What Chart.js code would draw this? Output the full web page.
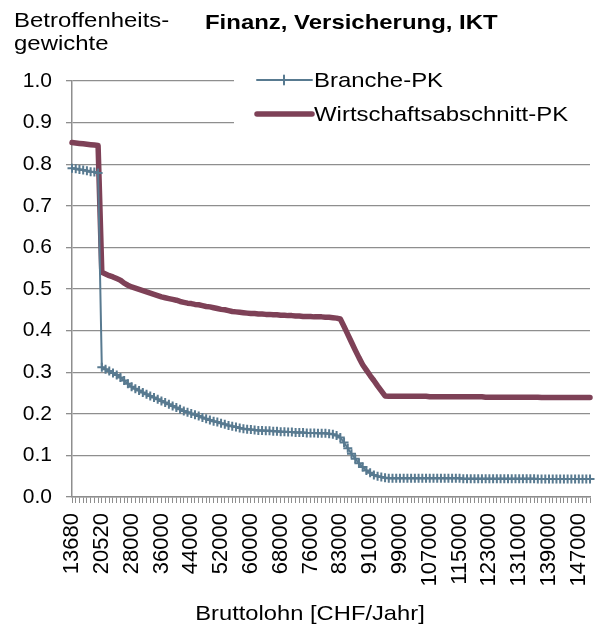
<!DOCTYPE html>
<html>
<head>
<meta charset="utf-8">
<script src="https://cdn.jsdelivr.net/npm/chart.js@4.4.1/dist/chart.umd.min.js"></script>
<style>
  html, body { margin: 0; padding: 0; background: #fff; }
  #chart { display: block; }
</style>
</head>
<body>
<canvas id="chart" width="597" height="630"></canvas>
<script>
// Bruttolohn categories (CHF/Jahr)
const lohn = [
  13680, 14000, 15000, 16000, 17000, 18000, 19000, 20000, 20520, 21000,
  22000, 23000, 24000, 25000, 26000, 27000, 28000, 29000, 30000, 31000,
  32000, 33000, 34000, 35000, 36000, 37000, 38000, 39000, 40000, 41000,
  42000, 43000, 44000, 45000, 46000, 47000, 48000, 49000, 50000, 51000,
  52000, 53000, 54000, 55000, 56000, 57000, 58000, 59000, 60000, 61000,
  62000, 63000, 64000, 65000, 66000, 67000, 68000, 69000, 70000, 71000,
  72000, 73000, 74000, 75000, 76000, 77000, 78000, 79000, 80000, 81000,
  82000, 82080, 83000, 84000, 85000, 86000, 87000, 88000, 89000, 90000,
  91000, 92000, 93000, 94000, 95000, 96000, 97000, 98000, 99000, 100000,
  101000, 102000, 103000, 104000, 105000, 106000, 107000, 108000, 109000, 110000,
  111000, 112000, 113000, 114000, 115000, 116000, 117000, 118000, 119000, 120000,
  121000, 122000, 123000, 124000, 125000, 126000, 127000, 128000, 129000, 130000,
  131000, 132000, 133000, 134000, 135000, 136000, 137000, 138000, 139000, 140000,
  141000, 142000, 143000, 144000, 145000, 146000, 147000, 148000, 149000, 150000
];

// labelled x ticks
const shownTicks = [
  13680, 20520, 28000, 36000, 44000, 52000, 60000, 68000, 76000,
  83000, 91000, 99000, 107000, 115000, 123000, 131000, 139000, 147000
];

const branchePK = [
  0.790, 0.789, 0.787, 0.786, 0.784, 0.782, 0.781, 0.779, 0.312, 0.307,
  0.303, 0.298, 0.293, 0.287, 0.280, 0.272, 0.265, 0.260, 0.256, 0.251,
  0.247, 0.243, 0.239, 0.235, 0.231, 0.227, 0.223, 0.219, 0.215, 0.211,
  0.207, 0.204, 0.201, 0.198, 0.195, 0.191, 0.188, 0.185, 0.182, 0.180,
  0.177, 0.175, 0.172, 0.170, 0.168, 0.166, 0.164, 0.163, 0.162, 0.161,
  0.160, 0.160, 0.159, 0.159, 0.158, 0.158, 0.157, 0.157, 0.156, 0.156,
  0.155, 0.155, 0.155, 0.154, 0.154, 0.154, 0.153, 0.153, 0.153, 0.152,
  0.151, 0.148, 0.143, 0.131, 0.117, 0.104, 0.092, 0.081, 0.072, 0.064,
  0.058, 0.053, 0.050, 0.048, 0.046, 0.045, 0.045, 0.045, 0.045, 0.045,
  0.045, 0.045, 0.045, 0.045, 0.045, 0.045, 0.045, 0.045, 0.045, 0.045,
  0.045, 0.045, 0.045, 0.045, 0.045, 0.044, 0.044, 0.044, 0.044, 0.044,
  0.044, 0.044, 0.044, 0.044, 0.044, 0.044, 0.044, 0.044, 0.044, 0.044,
  0.044, 0.044, 0.044, 0.044, 0.044, 0.043, 0.043, 0.043, 0.043, 0.043,
  0.043, 0.043, 0.043, 0.043, 0.043, 0.043, 0.043, 0.043, 0.043, 0.043
];

const abschnittPK = [
  0.852, 0.851, 0.850, 0.849, 0.848, 0.847, 0.846, 0.845, 0.540, 0.536,
  0.532, 0.529, 0.525, 0.521, 0.514, 0.509, 0.505, 0.502, 0.499, 0.496,
  0.493, 0.490, 0.487, 0.484, 0.481, 0.479, 0.477, 0.475, 0.473, 0.470,
  0.468, 0.466, 0.465, 0.463, 0.462, 0.460, 0.458, 0.457, 0.455, 0.453,
  0.451, 0.450, 0.448, 0.446, 0.445, 0.444, 0.443, 0.442, 0.441, 0.441,
  0.440, 0.440, 0.439, 0.439, 0.438, 0.438, 0.437, 0.437, 0.436, 0.436,
  0.435, 0.435, 0.434, 0.434, 0.434, 0.433, 0.433, 0.433, 0.432, 0.432,
  0.431, 0.430, 0.428, 0.410, 0.391, 0.372, 0.353, 0.335, 0.318, 0.305,
  0.292, 0.280, 0.267, 0.255, 0.243, 0.242, 0.242, 0.242, 0.242, 0.242,
  0.242, 0.242, 0.242, 0.242, 0.242, 0.242, 0.241, 0.241, 0.241, 0.241,
  0.241, 0.241, 0.241, 0.241, 0.241, 0.241, 0.241, 0.241, 0.241, 0.241,
  0.241, 0.240, 0.240, 0.240, 0.240, 0.240, 0.240, 0.240, 0.240, 0.240,
  0.240, 0.240, 0.240, 0.240, 0.240, 0.240, 0.239, 0.239, 0.239, 0.239,
  0.239, 0.239, 0.239, 0.239, 0.239, 0.239, 0.239, 0.239, 0.239, 0.239
];

const BLUE = '#587a90';
const RED = '#7e4157';
const GRID = '#8e8e8e';
const FONT = "'Liberation Sans', Arial, sans-serif";

// text drawn a little wider than the font's own proportions
function wideText(ctx, txt, x, y, sx, align) {
  ctx.save();
  ctx.translate(x, y);
  ctx.scale(sx, 1);
  ctx.textAlign = align || 'left';
  ctx.fillText(txt, 0, 0);
  ctx.restore();
}

// title, y caption, x caption and a legend box inside the plot
const decor = {
  id: 'decor',
  beforeDatasetsDraw(chart) {
    const ctx = chart.ctx;
    ctx.save();
    ctx.fillStyle = '#fff';
    ctx.fillRect(234, 64, 358, 68);
    ctx.restore();
  },
  afterDraw(chart) {
    const ctx = chart.ctx;
    ctx.save();
    ctx.fillStyle = '#000';
    ctx.textBaseline = 'alphabetic';
    ctx.font = '21px ' + FONT;
    wideText(ctx, 'Betroffenheits-', 14, 27, 1.14);
    wideText(ctx, 'gewichte', 14, 50, 1.14);
    ctx.font = 'bold 21px ' + FONT;
    wideText(ctx, 'Finanz, Versicherung, IKT', 205, 29, 1.14);
    ctx.font = '21px ' + FONT;
    wideText(ctx, 'Bruttolohn [CHF/Jahr]', 310, 620, 1.13, 'center');

    // legend
    ctx.lineCap = 'round';
    ctx.strokeStyle = BLUE;
    ctx.lineWidth = 2;
    ctx.beginPath();
    ctx.moveTo(257, 80); ctx.lineTo(312, 80);
    ctx.moveTo(284, 75.5); ctx.lineTo(284, 84.5);
    ctx.stroke();
    ctx.strokeStyle = RED;
    ctx.lineWidth = 5.5;
    ctx.beginPath();
    ctx.moveTo(257, 114); ctx.lineTo(312, 114);
    ctx.stroke();
    ctx.textBaseline = 'middle';
    ctx.font = '21px ' + FONT;
    wideText(ctx, 'Branche-PK', 314, 81, 1.14);
    wideText(ctx, 'Wirtschaftsabschnitt-PK', 314, 115, 1.14);
    ctx.restore();
  }
};

new Chart(document.getElementById('chart'), {
  type: 'line',
  data: {
    labels: lohn,
    datasets: [
      {
        label: 'Branche-PK',
        data: branchePK,
        borderColor: BLUE,
        backgroundColor: BLUE,
        borderWidth: 2,
        pointStyle: 'cross',
        pointRadius: 4.5,
        pointBorderWidth: 2,
        pointBorderColor: BLUE,
        tension: 0,
        clip: false,
      },
      {
        label: 'Wirtschaftsabschnitt-PK',
        data: abschnittPK,
        borderColor: RED,
        backgroundColor: RED,
        borderWidth: 5.5,
        borderCapStyle: 'round',
        borderJoinStyle: 'round',
        pointRadius: 0,
        tension: 0,
        clip: false,
      },
    ],
  },
  options: {
    responsive: false,
    animation: false,
    layout: { padding: { top: 81, right: 7, left: 0, bottom: 0 } },
    plugins: {
      legend: { display: false },
      title: { display: false },
      tooltip: { enabled: false },
    },
    scales: {
      x: {
        type: 'category',
        offset: false,
        grid: {
          drawOnChartArea: false,
          drawTicks: true,
          tickLength: 6,
          color: GRID,
          offset: false,
        },
        border: { color: GRID, width: 1.5 },
        ticks: {
          autoSkip: false,
          maxRotation: 90,
          minRotation: 90,
          padding: 10,
          color: '#000',
          font: { family: FONT, size: 22 },
          callback: function (value) {
            const v = this.getLabelForValue(value);
            return shownTicks.includes(v) ? String(v) : '';
          },
        },
        afterFit: (s) => {
          s.height = 133;
          s.paddingLeft = 0;
          s.paddingRight = 0;
        },
      },
      y: {
        min: 0,
        max: 1,
        grid: { color: GRID, lineWidth: 1.3, tickLength: 6 },
        border: { color: GRID, width: 1.5 },
        ticks: {
          stepSize: 0.1,
          padding: 14,
          color: '#000',
          font: { family: FONT, size: 21 },
          callback: (v) => v.toFixed(1),
        },
        afterFit: (s) => { s.width = 72; },
      },
    },
  },
  plugins: [decor],
});
</script>
</body>
</html>
